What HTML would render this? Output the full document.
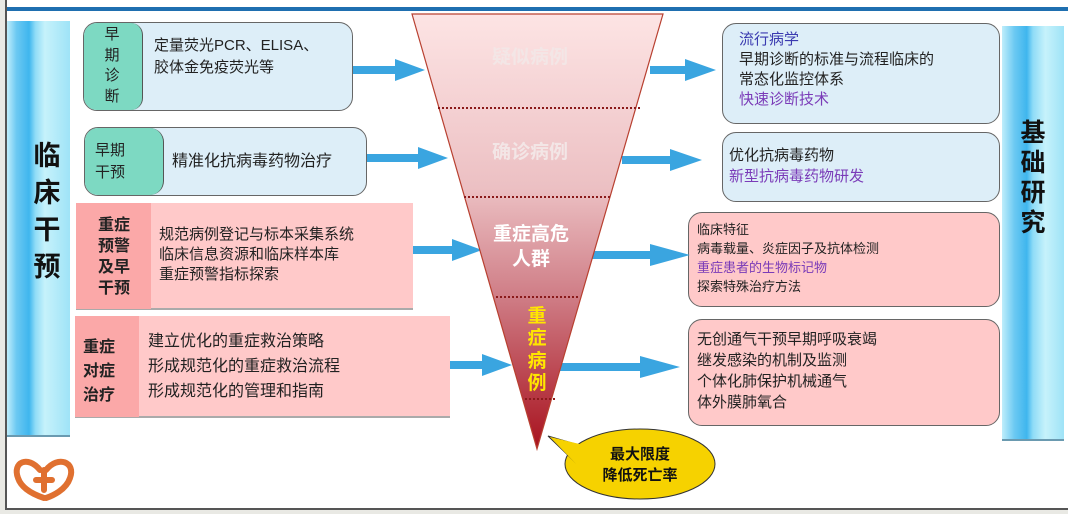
<!DOCTYPE html>
<html><head><meta charset="utf-8"><style>
body{margin:0;width:1068px;height:514px;background:#e9e9e4;position:relative;overflow:hidden;font-family:"Liberation Sans","Noto Sans CJK SC",sans-serif;}
.a{position:absolute;box-sizing:border-box}
.t{color:#222;font-size:15px;line-height:20px}
.b{font-weight:bold}
</style></head><body>
<div class="a" style="left:5px;top:0;width:1063px;height:510px;background:#fff;border-left:2px solid #555;border-bottom:2px solid #555"></div>
<div class="a" style="left:7px;top:7px;width:1061px;height:4px;background:#1f6fb0"></div>
<div class="a" style="left:7px;top:21px;width:63px;height:416px;background:linear-gradient(90deg,#bfeefb 0%,#6cc9f2 15%,#3fb6ee 35%,#8fdcf7 45%,#c6f2fb 60%,#9fe3f7 100%);border-bottom:2px solid #6a9ab0"></div>
<div class="a b" style="left:24px;top:138px;width:46px;font-size:27px;line-height:37px;text-align:center;color:#111">临<br>床<br>干<br>预</div>
<div class="a" style="left:1002px;top:26px;width:62px;height:415px;background:linear-gradient(90deg,#bfeefb 0%,#6cc9f2 20%,#3fb6ee 40%,#8fdcf7 50%,#c6f2fb 70%,#9fe3f7 100%);border-bottom:2px solid #6a9ab0"></div>
<div class="a b" style="left:1002px;top:118px;width:62px;font-size:25px;line-height:30px;text-align:center;color:#111">基<br>础<br>研<br>究</div>
<div class="a" style="left:83px;top:22px;width:270px;height:89px;background:#ddeef8;border:1.5px solid #666;border-radius:14px;overflow:hidden">
<div class="a" style="left:0;top:0;width:59px;height:100%;background:#7dd9c2;border-right:1.5px solid #555;border-radius:0 12px 12px 0"></div>
<div class="a t" style="left:13px;top:2px;width:30px;font-size:15px;line-height:20.5px;text-align:center">早<br>期<br>诊<br>断</div>
<div class="a t" style="left:70px;top:12px;font-size:15px;line-height:22px">定量荧光PCR、ELISA、<br>胶体金免疫荧光等</div></div>
<div class="a" style="left:84px;top:127px;width:283px;height:69px;background:#ddeef8;border:1.5px solid #666;border-radius:14px;overflow:hidden">
<div class="a" style="left:0;top:0;width:79px;height:100%;background:#7dd9c2;border-right:1.5px solid #555;border-radius:0 14px 14px 0"></div>
<div class="a t" style="left:10px;top:12px;font-size:15px;line-height:22px">早期<br>干预</div>
<div class="a t" style="left:87px;top:24px;font-size:16px">精准化抗病毒药物治疗</div></div>
<div class="a" style="left:76px;top:203px;width:337px;height:107px;background:#ffc9c9;border-bottom:2px solid #aaa">
<div class="a" style="left:0;top:0;width:75px;height:106px;background:#fba8a8"></div>
<div class="a t b" style="left:13px;top:12px;font-size:16px;line-height:21px;width:50px;text-align:center">重症<br>预警<br>及早<br>干预</div>
<div class="a t" style="left:83px;top:22px;font-size:15px;line-height:20px">规范病例登记与标本采集系统<br>临床信息资源和临床样本库<br>重症预警指标探索</div></div>
<div class="a" style="left:75px;top:316px;width:375px;height:102px;background:#ffc9c9;border-bottom:2px solid #aaa">
<div class="a" style="left:0;top:0;width:64px;height:101px;background:#fba8a8"></div>
<div class="a t b" style="left:8px;top:20px;font-size:16px;line-height:24px">重症<br>对症<br>治疗</div>
<div class="a t" style="left:73px;top:13px;font-size:16px;line-height:25px">建立优化的重症救治策略<br>形成规范化的重症救治流程<br>形成规范化的管理和指南</div></div>
<div class="a" style="left:722px;top:23px;width:278px;height:101px;background:#ddeef8;border:1.5px solid #666;border-radius:14px">
<div class="a t" style="left:16px;top:6px;font-size:15px;line-height:20px"><span style="color:#3a3ab0">流行病学</span><br>早期诊断的标准与流程临床的<br>常态化监控体系<br><span style="color:#7a3bb8">快速诊断技术</span></div></div>
<div class="a" style="left:722px;top:132px;width:278px;height:70px;background:#ddeef8;border:1.5px solid #666;border-radius:14px">
<div class="a t" style="left:6px;top:12px;font-size:15px;line-height:21px">优化抗病毒药物<br><span style="color:#7a3bb8">新型抗病毒药物研发</span></div></div>
<div class="a" style="left:688px;top:212px;width:312px;height:95px;background:#ffc9c9;border:1.5px solid #666;border-radius:14px">
<div class="a t" style="left:8px;top:7px;font-size:13px;line-height:19px">临床特征<br>病毒载量、炎症因子及抗体检测<br><span style="color:#7a3bb8">重症患者的生物标记物</span><br>探索特殊治疗方法</div></div>
<div class="a" style="left:688px;top:319px;width:312px;height:107px;background:#ffc9c9;border:1.5px solid #666;border-radius:14px">
<div class="a t" style="left:8px;top:9px;font-size:15px;line-height:21px">无创通气干预早期呼吸衰竭<br>继发感染的机制及监测<br>个体化肺保护机械通气<br>体外膜肺氧合</div></div>
<svg class="a" style="left:0;top:0" width="1068" height="514">
<defs>
<linearGradient id="g" x1="0" y1="0" x2="0" y2="1"><stop offset="0" stop-color="#fde4e4"/><stop offset="0.4" stop-color="#ecc0c3"/><stop offset="0.65" stop-color="#cf7d86"/><stop offset="1" stop-color="#a8121e"/></linearGradient>
</defs>
<g fill="#3aa5e0">
<path d="M353,66 H395 V59 L425,70 L395,81 V74 H353Z"/>
<path d="M367,154 H418 V147 L448,158 L418,169 V162 H367Z"/>
<path d="M413,246 H452 V239 L482,250 L452,261 V254 H413Z"/>
<path d="M450,361 H482 V354 L512,365 L482,376 V369 H450Z"/>
<path d="M650,66 H685 V59 L716,70 L685,81 V74 H650Z"/>
<path d="M622,156 H670 V149 L702,160 L670,171 V164 H622Z"/>
<path d="M592,251 H650 V244 L690,255 L650,266 V259 H592Z"/>
<path d="M560,363 H640 V356 L680,367 L640,378 V371 H560Z"/>
</g>
<path d="M412,14 L663,14 L537,449 Z" fill="url(#g)" stroke="#b84030" stroke-width="1.2"/>
<g stroke="#8a1a1a" stroke-width="2" stroke-dasharray="2,2">
<line x1="438" y1="108" x2="640" y2="108"/><line x1="464" y1="197" x2="610" y2="197"/>
<line x1="496" y1="297" x2="580" y2="297"/><line x1="525" y1="399" x2="555" y2="399"/></g>
<g font-family="Liberation Sans,Noto Sans CJK SC,sans-serif" font-weight="bold" text-anchor="middle">
<text x="530" y="63" font-size="19" fill="#f3e6e6">疑似病例</text>
<text x="530" y="158" font-size="19" fill="#f3e6e6">确诊病例</text>
<text x="531" y="240" font-size="19" fill="#fff">重症高危</text>
<text x="531" y="265" font-size="19" fill="#fff">人群</text>
<g font-size="19" fill="#ffe600"><text x="537" y="322">重</text><text x="537" y="344">症</text><text x="537" y="367">病</text><text x="537" y="389">例</text></g>
</g>
<ellipse cx="640" cy="464" rx="75" ry="35" fill="#f6d200" stroke="#333" stroke-width="1"/>
<path d="M586,447 L548,436 L576,463" fill="#f6d200" stroke="#333" stroke-width="1"/>
<path d="M588,446 L550,437 L578,466 Z" fill="#f6d200"/>
<text x="640" y="459" font-size="15" font-weight="bold" text-anchor="middle" font-family="Liberation Sans,Noto Sans CJK SC,sans-serif" fill="#111">最大限度</text>
<text x="640" y="480" font-size="15" font-weight="bold" text-anchor="middle" font-family="Liberation Sans,Noto Sans CJK SC,sans-serif" fill="#111">降低死亡率</text>
<g fill="none" stroke="#e07030" stroke-width="6" stroke-linecap="round">
<path d="M40,470 C28,455 12,462 18,478 C22,490 38,496 44,498"/>
<path d="M46,470 C58,455 76,462 70,478 C66,490 52,496 46,498"/>
<path d="M44,470 V490 M36,480 H52"/></g>
</svg>
</body></html>
